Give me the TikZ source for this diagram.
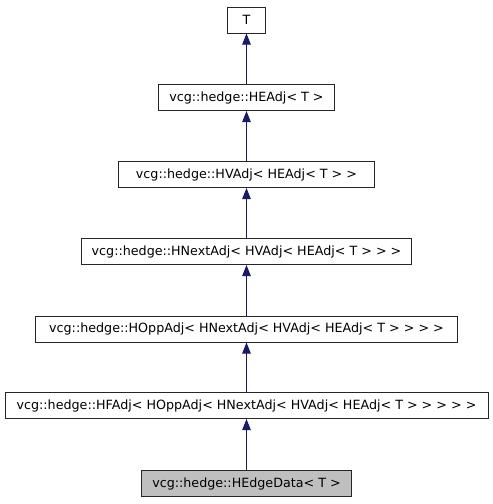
\documentclass[tikz,border=0pt]{standalone}
\usepackage{fontspec}
\setmainfont{DejaVu Sans}
\usetikzlibrary{arrows.meta}
\definecolor{edgeblue}{RGB}{25,25,112}
\definecolor{nodegray}{RGB}{191,191,191}
\begin{document}
\begin{tikzpicture}[x=1pt,y=-1pt,
  cls/.style={draw=black!85, line width=1pt, minimum height=26pt, inner sep=0pt,
    font=\fontsize{12.7}{14}\selectfont, fill=white},
  inh/.style={draw=edgeblue, line width=1pt, -{Triangle[length=11pt,width=8.5pt]}}]
\useasboundingbox (0,0) rectangle (493,504);
\node[cls, minimum width=38pt] (t) at (246.5,20) {T};
\node[cls, minimum width=176pt] (headj) at (246.5,97.5) {vcg::hedge::HEAdj< T >};
\node[cls, minimum width=256pt] (hvadj) at (246.5,174.5) {vcg::hedge::HVAdj< HEAdj< T > >};
\node[cls, minimum width=330pt] (hnext) at (246.5,251.5) {vcg::hedge::HNextAdj< HVAdj< HEAdj< T > > >};
\node[cls, minimum width=422pt] (hopp) at (246.5,329) {vcg::hedge::HOppAdj< HNextAdj< HVAdj< HEAdj< T > > > >};
\node[cls, minimum width=483pt] (hf) at (246.5,405.5) {vcg::hedge::HFAdj< HOppAdj< HNextAdj< HVAdj< HEAdj< T > > > > >};
\node[cls, minimum width=210pt, fill=nodegray] (hed) at (246.5,483.5) {vcg::hedge::HEdgeData< T >};
\draw[inh] (headj.north) -- (t.south);
\draw[inh] (hvadj.north) -- (headj.south);
\draw[inh] (hnext.north) -- (hvadj.south);
\draw[inh] (hopp.north) -- (hnext.south);
\draw[inh] (hf.north) -- (hopp.south);
\draw[inh] (hed.north) -- (hf.south);
\end{tikzpicture}
\end{document}
